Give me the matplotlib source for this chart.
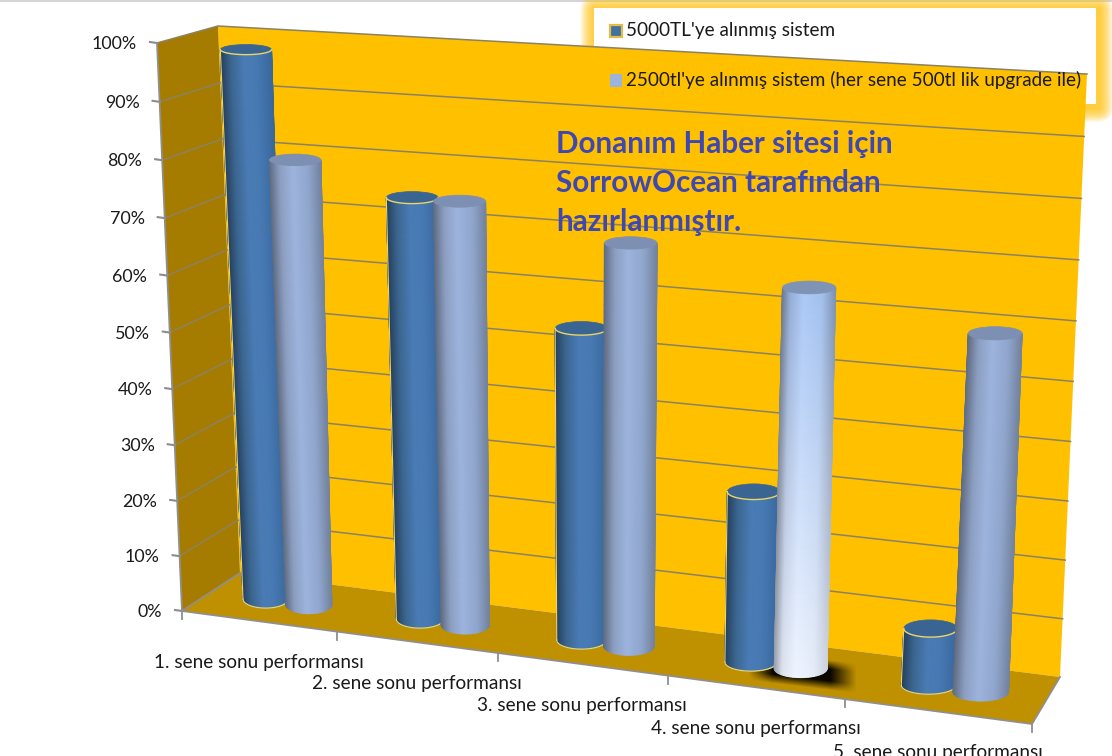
import numpy as np
import matplotlib
matplotlib.use("Agg")
import matplotlib.pyplot as plt
from matplotlib.patches import Polygon, Rectangle, FancyBboxPatch, Ellipse
from matplotlib.colors import to_rgb

plt.rcParams['font.family'] = ['Lato', 'DejaVu Sans']

# ---- data ----
categories = ["1. sene sonu performansı", "2. sene sonu performansı", "3. sene sonu performansı",
              "4. sene sonu performansı", "5. sene sonu performansı"]
series_a = [0.98, 0.745, 0.545, 0.295, 0.097]
series_b = [0.795, 0.745, 0.697, 0.647, 0.598]
series_names = ["5000TL'ye alınmış sistem", "2500tl'ye alınmış sistem (her sene 500tl lik upgrade ile)"]
value_ticks = [0, .1, .2, .3, .4, .5, .6, .7, .8, .9, 1.0]
tick_labels = ["0%", "10%", "20%", "30%", "40%", "50%", "60%", "70%", "80%", "90%", "100%"]
note_lines = ["Donanım Haber sitesi için", "SorrowOcean tarafından", "hazırlanmıştır."]
highlight = (1, 3)

# ---- 3D box corners on the page, keyed (right, back, top) ----
C = {(0, 0, 0): (182, 611), (0, 1, 0): (240, 573), (1, 1, 0): (1060, 677), (1, 0, 0): (1032, 724),
     (0, 0, 1): (157, 43), (0, 1, 1): (218, 26), (1, 1, 1): (1087, 74), (1, 0, 1): (1062, 99)}
C = {k: np.array(v, float) for k, v in C.items()}


def warp(t, k):
    return t / (t + (1 - t) * k)


def P(u, d, v):
    a, c = warp(u, 1.125), warp(v, 1.04)
    out = 0
    for i, wi in ((0, 1 - a), (1, a)):
        for j, wj in ((0, 1 - d), (1, d)):
            for m, wm in ((0, 1 - c), (1, c)):
                out = out + wi * wj * wm * C[(i, j, m)]
    return out


fig = plt.figure(figsize=(11.12, 7.56), dpi=100)
ax = fig.add_axes([0, 0, 1, 1])
ax.axis('off')

GRID = '#8a8262'
ax.plot([0, 1112], [0.5, 0.5], color='#d5d5d5', lw=1.5, zorder=1)

# ---- legend box with glow, sits behind the walls ----
L, T, R, B = 593.5, 8, 1096, 104
for pad in np.linspace(14, 1, 14):
    ax.add_patch(FancyBboxPatch((L + 1, T + 1), R - L + 2, B - T + 3, boxstyle=f"round,pad={pad},rounding_size={pad + 2}",
                                fc='#FFC000', ec='none', alpha=0.09, zorder=2))
ax.add_patch(Rectangle((L, T), R - L, B - T, fc='white', ec='none', zorder=3))

# ---- walls and floor ----
WALL, SIDE, FLOOR = '#FFC000', '#A67C00', '#BF9000'
ax.add_patch(Polygon([C[0, 1, 1], C[1, 1, 1], C[1, 1, 0], C[0, 1, 0]], fc=WALL, ec='none', zorder=4))
ax.add_patch(Polygon([C[0, 0, 1], C[0, 1, 1], C[0, 1, 0], C[0, 0, 0]], fc=SIDE, ec='none', zorder=4))
ax.add_patch(Polygon([C[0, 0, 0], C[0, 1, 0], C[1, 1, 0], C[1, 0, 0]], fc=FLOOR, ec='none', zorder=4))

for v, lab in zip(value_ticks, tick_labels):
    a, b, c = P(0, 0, v), P(0, 1, v), P(1, 1, v)
    if v > 0:
        ax.plot([a[0], b[0], c[0]], [a[1], b[1], c[1]], color=GRID, lw=1.1, zorder=5, solid_joinstyle='miter')
    ax.plot([a[0] - 7, a[0]], [a[1] - 1, a[1]], color='#8c8c8c', lw=1.5, zorder=5)
    ax.text(a[0] - 20, a[1] + 1, lab, ha='right', va='center', fontsize=12.9, color='#1a1a1a', zorder=9)

EDGE = '#8f8f8f'
for p, q in ((P(0, 0, 0), P(0, 0, 1)), (P(0, 0, 0), P(1, 0, 0)), (P(1, 0, 0), P(1, 1, 0)), (P(0, 0, 0), P(0, 1, 0))):
    ax.plot([p[0], q[0]], [p[1], q[1]], color=EDGE, lw=1.3, zorder=5)

for i in range(len(categories) + 1):
    p = P(i / len(categories), 0, 0)
    ax.plot([p[0], p[0]], [p[1], p[1] + 8], color=EDGE, lw=1.3, zorder=5)
for i, lab in enumerate(categories):
    p = P((i + .5) / len(categories), 0, 0)
    ax.text(p[0], p[1] + 41, lab, ha='center', va='center', fontsize=13.7, color='#1a1a1a', zorder=9)

# ---- soft shadow beneath the highlighted cylinder ----
yy, xx = np.mgrid[648:694, 740:865]
yc = 671 + 0.12 * (xx - 800)


def ramp(d, s):
    return np.clip(d / s, 0, 1)


al = ramp(xx - 748, 24) * ramp(856 - xx, 26) * ramp(15 - np.abs(yy - yc), 9)
shadow = np.zeros(xx.shape + (4,))
shadow[..., 3] = al * 0.95
ax.imshow(shadow, extent=(740, 865, 694, 648), zorder=6, interpolation='bilinear', aspect='auto')


# ---- cylinders ----
def cylinder(i, f, val, stops_base, stops_top, lid, outline, z):
    n = len(categories)
    uc, hw = (i + f) / n, 0.150 / n
    base, top = P(uc, .5, 0), P(uc, .5, val)
    rb = (P(uc + hw, .5, 0)[0] - P(uc - hw, .5, 0)[0]) / 2
    rt = 25.5 + 1.5 * uc
    ryb, ryt = 9.0, 9.0 - 4 * val
    th = np.linspace(np.pi, 0, 41)
    s = (1 - np.cos(th)) / 2
    xb, yb = base[0] + rb * np.cos(th), base[1] + ryb * np.sin(th)
    xt, yt = top[0] + rt * np.cos(th), top[1] + ryt * np.sin(th)
    pos = [q[0] for q in stops_base]
    col_b = np.array([np.interp(s, pos, [to_rgb(q[1])[ch] for q in stops_base]) for ch in range(3)]).T
    col_t = np.array([np.interp(s, pos, [to_rgb(q[1])[ch] for q in stops_top]) for ch in range(3)]).T
    rows = np.linspace(0, 1, 60)[:, None]
    X = xb + (xt - xb) * rows
    Y = yb + (yt - yb) * rows
    C_ = col_b[None, :, :] + (col_t - col_b)[None, :, :] * rows[:, :, None]
    ax.pcolormesh(X, Y, C_, shading='gouraud', zorder=z, antialiased=True)
    ax.add_patch(Ellipse(top, 2 * rt, 2 * ryt, fc=lid, ec=lid, lw=0.5, zorder=z + .1))
    if outline:
        ax.plot([xb[0], xt[0]], [yb[0], yt[0]], color=outline, lw=0.8, zorder=z + .1)
        ax.plot(xb, yb, color=outline, lw=0.9, zorder=z + .1)
        ax.plot(xt, yt, color=outline, lw=1.0, zorder=z + .2)


dark = [(0, '#39689d'), (.3, '#4779b3'), (.55, '#4a7bb5'), (.8, '#3c668f'), (1, '#253f5e')]
lite = [(0, '#74849f'), (.25, '#90a6cd'), (.55, '#9db4dd'), (.8, '#8d9fc2'), (1, '#5f6c83')]
hi_b = [(0, '#cfd4de'), (.25, '#e6edf9'), (.6, '#f0f5ff'), (.85, '#dde3ef'), (1, '#9aa0ab')]
hi_t = [(0, '#7f93b4'), (.25, '#a3c0ec'), (.6, '#abc9f8'), (.85, '#96aed6'), (1, '#6d7a90')]

YEL = '#EBD56A'
for i in range(len(categories)):
    cylinder(i, .365, series_a[i], dark, dark, '#3a6592', YEL, 7 + i * .5)
    if (i, 1) == (highlight[1], highlight[0]):
        cylinder(i, .65, series_b[i], hi_b, hi_t, '#7f93b4', None, 7.2 + i * .5)
    else:
        cylinder(i, .65, series_b[i], lite, lite, '#7d8fb2', None, 7.2 + i * .5)

# ---- legend entries ----
ax.add_patch(Rectangle((610, 25), 12, 12, fc='#41719f', ec='#E0BC4A', lw=1.6, zorder=9))
ax.add_patch(Rectangle((610, 74), 12, 12.5, fc='#9DB4DA', ec='none', zorder=9))
ax.text(626, 30.5, series_names[0], fontsize=13.6, va='center', ha='left', color='#1a1a1a', zorder=9)
ax.text(626, 80, series_names[1], fontsize=13.6, va='center', ha='left', color='#1a1a1a', zorder=9)

# ---- note ----
for y, line in zip((153, 192, 231), note_lines):
    ax.text(556, y, line, fontsize=21.3, fontweight='bold', color='#3F48B0', va='baseline', ha='left', zorder=9)

ax.set_xlim(0, 1112)
ax.set_ylim(756, 0)
fig.savefig('out.png', dpi=100)
